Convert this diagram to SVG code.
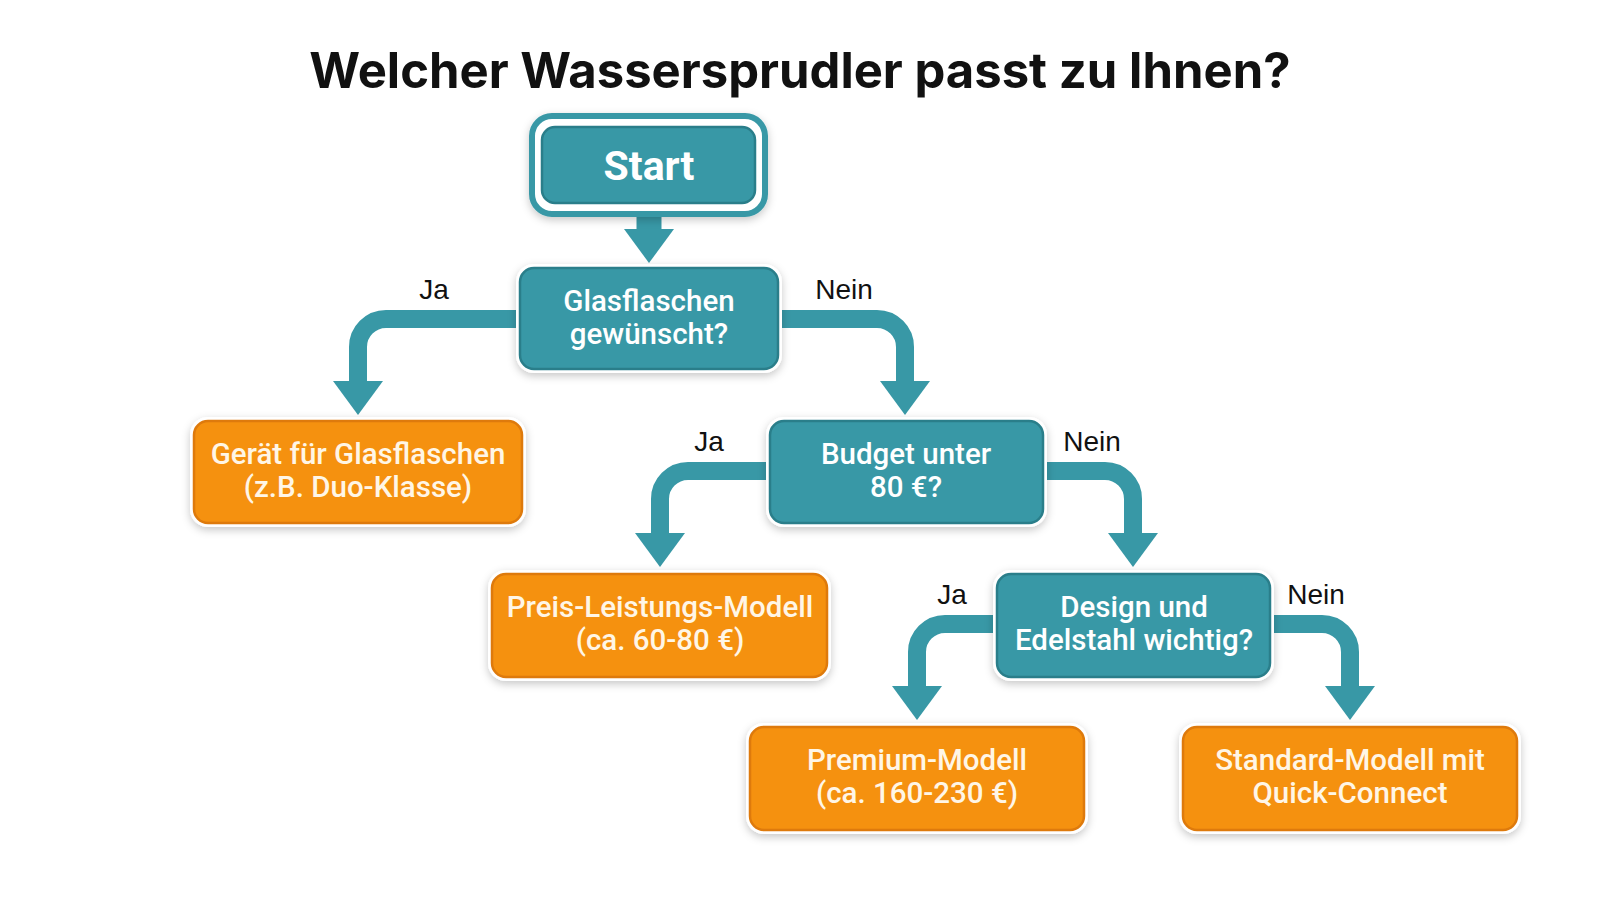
<svg xmlns="http://www.w3.org/2000/svg" width="1600" height="900" viewBox="0 0 1600 900">
<style>
.title{font-family:Inter,"Liberation Sans",sans-serif;font-weight:700;font-size:49px;fill:#111;text-anchor:middle}
.halo{fill:#fff;filter:url(#sh)}
.teal{fill:#3898a6;stroke:#2a7e8a;stroke-width:2.5}
.orange{fill:#f5910f;stroke:#de7a0c;stroke-width:2.5}
.nt{font-family:Roboto,"Liberation Sans",sans-serif;font-weight:500;font-size:29.5px;text-anchor:middle}
.tw{fill:#ffffff}
.ow{fill:#fff6e6}
.lbl{font-family:"Liberation Sans",Arial,sans-serif;font-size:28px;fill:#111;text-anchor:middle}
.con{fill:none;stroke:#3898a6;stroke-width:18}
</style>
<defs>
<filter id="sh" x="-10%" y="-20%" width="120%" height="150%">
<feDropShadow dx="0" dy="3" stdDeviation="4" flood-color="#000" flood-opacity="0.22"/>
</filter>
<marker id="ah" markerUnits="userSpaceOnUse" markerWidth="34" markerHeight="50" viewBox="0 -25 34 50" refX="0" refY="0" orient="auto">
<path d="M0,-25 L34,0 L0,25 z" fill="#3898a6"/>
</marker>
</defs>
<rect width="1600" height="900" fill="#ffffff"/>
<text class="title" x="800" y="88">Welcher Wassersprudler passt zu Ihnen?</text>

<g id="connectors">
<path class="con" d="M649,212 V229" style="stroke-width:25" marker-end="url(#ah)"/>
<path class="con" d="M521,319 H386 A28,28 0 0 0 358,347 V381" marker-end="url(#ah)"/>
<path class="con" d="M777,319 H877 A28,28 0 0 1 905,347 V381" marker-end="url(#ah)"/>
<path class="con" d="M771,471 H688 A28,28 0 0 0 660,499 V533" marker-end="url(#ah)"/>
<path class="con" d="M1042,471 H1105 A28,28 0 0 1 1133,499 V533" marker-end="url(#ah)"/>
<path class="con" d="M998,624 H945 A28,28 0 0 0 917,652 V686" marker-end="url(#ah)"/>
<path class="con" d="M1269,624 H1322 A28,28 0 0 1 1350,652 V686" marker-end="url(#ah)"/>
</g>

<g id="labels">
<text class="lbl" x="434" y="299">Ja</text>
<text class="lbl" x="844" y="299">Nein</text>
<text class="lbl" x="709" y="451">Ja</text>
<text class="lbl" x="1092" y="451">Nein</text>
<text class="lbl" x="952" y="604">Ja</text>
<text class="lbl" x="1316" y="604">Nein</text>
</g>

<g id="start">
<rect x="532" y="116" width="233" height="98" rx="20" fill="#fff" stroke="#3898a6" stroke-width="6" filter="url(#sh)"/>
<rect x="542" y="127" width="213" height="76" rx="13" class="teal"/>
<text class="nt tw" x="649" y="180" style="font-size:41px;font-weight:700">Start</text>
</g>

<g id="q1">
<rect x="516" y="264" width="266" height="109" rx="18" class="halo"/>
<rect x="520" y="268" width="258" height="101" rx="14" class="teal"/>
<text class="nt tw" x="649" y="311">Glasflaschen</text>
<text class="nt tw" x="649" y="344">gewünscht?</text>
</g>

<g id="r1">
<rect x="190" y="417" width="336" height="110" rx="18" class="halo"/>
<rect x="194" y="421" width="328" height="102" rx="14" class="orange"/>
<text class="nt ow" x="358" y="464">Gerät für Glasflaschen</text>
<text class="nt ow" x="358" y="497">(z.B. Duo-Klasse)</text>
</g>

<g id="q2">
<rect x="766" y="417" width="281" height="110" rx="18" class="halo"/>
<rect x="770" y="421" width="273" height="102" rx="14" class="teal"/>
<text class="nt tw" x="906" y="464">Budget unter</text>
<text class="nt tw" x="906" y="497">80 €?</text>
</g>

<g id="r2">
<rect x="488" y="570" width="343" height="111" rx="18" class="halo"/>
<rect x="492" y="574" width="335" height="103" rx="14" class="orange"/>
<text class="nt ow" x="660" y="617">Preis-Leistungs-Modell</text>
<text class="nt ow" x="660" y="650">(ca. 60-80 €)</text>
</g>

<g id="q3">
<rect x="993" y="570" width="281" height="111" rx="18" class="halo"/>
<rect x="997" y="574" width="273" height="103" rx="14" class="teal"/>
<text class="nt tw" x="1134" y="617">Design und</text>
<text class="nt tw" x="1134" y="650">Edelstahl wichtig?</text>
</g>

<g id="r3">
<rect x="746" y="723" width="342" height="111" rx="18" class="halo"/>
<rect x="750" y="727" width="334" height="103" rx="14" class="orange"/>
<text class="nt ow" x="917" y="770">Premium-Modell</text>
<text class="nt ow" x="917" y="803">(ca. 160-230 €)</text>
</g>

<g id="r4">
<rect x="1179" y="723" width="342" height="111" rx="18" class="halo"/>
<rect x="1183" y="727" width="334" height="103" rx="14" class="orange"/>
<text class="nt ow" x="1350" y="770">Standard-Modell mit</text>
<text class="nt ow" x="1350" y="803">Quick-Connect</text>
</g>
</svg>
